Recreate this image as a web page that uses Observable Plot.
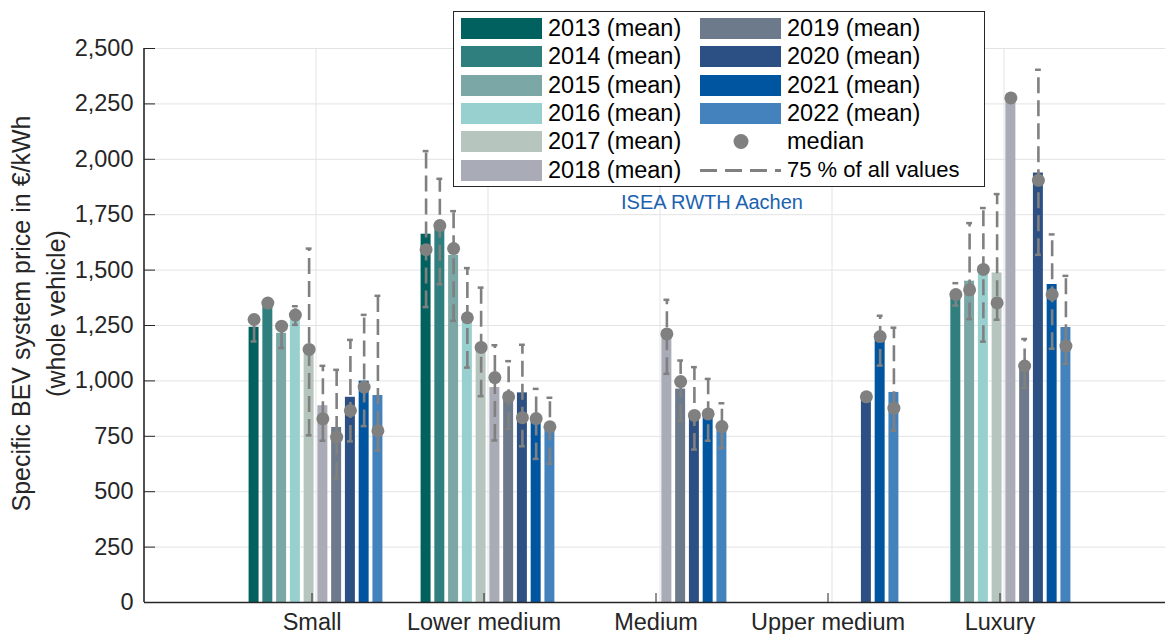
<!DOCTYPE html>
<html>
<head>
<meta charset="utf-8">
<script src="https://cdn.jsdelivr.net/npm/d3@7"></script>
<script src="https://cdn.jsdelivr.net/npm/@observablehq/plot@0.6"></script>
<style>
  body { margin: 0; background: #fff; overflow: hidden; font-family: "Liberation Sans", Arial, sans-serif; }
  #wrap { position: relative; width: 1165px; height: 634px; overflow: hidden; }
  #legend { position: absolute; left: 453px; top: 11px; width: 532px; height: 176px; box-sizing: border-box;
            border: 1px solid #262626; background: #fff; }
  .item { position: absolute; height: 21px; display: flex; align-items: center; white-space: nowrap;
          font-size: 23.5px; color: #000; }
  .sw { width: 81px; height: 21px; margin-right: 6px; flex: none; }
  #credit { position: absolute; left: 712px; top: 202px; transform: translate(-50%, -50%);
            font-size: 20px; color: #1a62b0; white-space: nowrap; }
</style>
</head>
<body>
<div id="wrap">
  <div id="chart"></div>
  <div id="legend"></div>
  <div id="credit">ISEA RWTH Aachen</div>
</div>
<script>
const categories = ["Small", "Lower medium", "Medium", "Upper medium", "Luxury"];
const years = [2013, 2014, 2015, 2016, 2017, 2018, 2019, 2020, 2021, 2022];
const colors = ["#00615e", "#2f7f7e", "#7ba7a6", "#97d0ce", "#b6c5bd", "#a9abb6", "#6c7a8b", "#2c5083", "#0055a1", "#4382bd"];
const yTicks = [0, 250, 500, 750, 1000, 1250, 1500, 1750, 2000, 2250, 2500];

// values per year 2013..2022 (null = no data)
const meanSmall   = [1242, 1340, 1215, 1276, 1122, 888, 790, 926, 999, 934];
const medianSmall = [1277, 1351, 1247, 1297, 1142, 829, 746, 866, 972, 775];
const lowSmall    = [1178, null, 1148, 1253, 754, 730, 560, 727, 796, 686];
const highSmall   = [1280, null, 1250, 1337, 1597, 1068, 1050, 1185, 1298, 1384];

const meanLower   = [1662, 1694, 1566, 1273, 1145, 970, 942, 946, 821, 776];
const medianLower = [1592, 1701, 1597, 1285, 1151, 1015, 928, 834, 830, 793];
const lowLower    = [1333, 1436, 1271, 1060, 931, 731, 784, 705, 648, 626];
const highLower   = [2037, 1912, 1766, 1509, 1421, 1161, 1089, 1163, 964, 924];

const meanMedium   = [null, null, null, null, null, 1205, 963, 838, 840, 776];
const medianMedium = [null, null, null, null, null, 1212, 997, 844, 851, 794];
const lowMedium    = [null, null, null, null, null, 1032, 821, 690, 730, 696];
const highMedium   = [null, null, null, null, null, 1366, 1092, 1062, 1009, 899];

const meanUpper   = [null, null, null, null, null, null, null, 919, 1212, 948];
const medianUpper = [null, null, null, null, null, null, null, 928, 1200, 877];
const lowUpper    = [null, null, null, null, null, null, null, null, 1069, 775];
const highUpper   = [null, null, null, null, null, null, null, null, 1294, 1240];

const meanLuxury   = [null, 1387, 1450, 1490, 1487, 2277, 1070, 1938, 1435, 1241];
const medianLuxury = [null, 1390, 1411, 1503, 1352, 2277, 1067, 1905, 1390, 1157];
const lowLuxury    = [null, 1340, 1279, 1177, 1276, null, 968, 1569, 1145, 1077];
const highLuxury   = [null, 1441, 1712, 1780, 1843, null, 1189, 2404, 1661, 1474];

const table = [
  [meanSmall, medianSmall, lowSmall, highSmall],
  [meanLower, medianLower, lowLower, highLower],
  [meanMedium, medianMedium, lowMedium, highMedium],
  [meanUpper, medianUpper, lowUpper, highUpper],
  [meanLuxury, medianLuxury, lowLuxury, highLuxury]
];

const barStep = 0.08, barHalf = 0.029, capHalf = 0.017;
const rows = categories.flatMap((c, ci) => years.map((y, j) => ({
  cat: c, year: String(y),
  xc: ci + 1 + (j - 4.5) * barStep,
  mean: table[ci][0][j], median: table[ci][1][j], low: table[ci][2][j], high: table[ci][3][j]
})));
const bars = rows.filter(d => d.mean != null);
const wh = rows.filter(d => d.low != null && d.high != null);

const gray = "#808080", ink = "#262626";
const chart = Plot.plot({
  width: 1165, height: 634,
  marginTop: 48, marginBottom: 32, marginLeft: 144, marginRight: 0,
  style: { fontFamily: "'Liberation Sans', Arial, sans-serif", fontSize: "23.5px", background: "#fff" },
  x: { domain: [0, 6], range: [143.5, 1175.5] },
  y: { domain: [0, 2500] },
  color: { type: "ordinal", domain: years.map(String), range: colors },
  marks: [
    Plot.gridY(yTicks, { stroke: "#e3e3e3", strokeOpacity: 1, strokeWidth: 1 }),
    Plot.gridX([1, 2, 3, 4, 5], { stroke: "#e3e3e3", strokeOpacity: 1, strokeWidth: 1 }),
    Plot.rectY(bars, { x1: d => d.xc - barHalf, x2: d => d.xc + barHalf, y: "mean", fill: "year" }),
    Plot.ruleX(wh, { x: "xc", y1: "low", y2: "high", stroke: gray, strokeWidth: 2.6, strokeDasharray: "16,7" }),
    Plot.ruleY(wh, { y: "low", x1: d => d.xc - capHalf, x2: d => d.xc + capHalf, stroke: gray, strokeWidth: 2.5 }),
    Plot.ruleY(wh, { y: "high", x1: d => d.xc - capHalf, x2: d => d.xc + capHalf, stroke: gray, strokeWidth: 2.5 }),
    Plot.dot(bars, { x: "xc", y: "median", r: 6.5, fill: gray, stroke: "none" }),
    Plot.ruleY([0], { stroke: ink, strokeWidth: 1.6 }),
    Plot.ruleX([0], { stroke: ink, strokeWidth: 1.6 }),
    Plot.axisY(yTicks, { tickSize: -11, tickPadding: 22, tickFormat: d3.format(","), color: ink, fontSize: 23.5, label: null }),
    Plot.axisX([1, 2, 3, 4, 5], { tickSize: -9, tickPadding: 20, dx: -4, tickFormat: i => categories[i - 1], color: ink, fontSize: 23.5, label: null }),
    Plot.text(["Specific BEV system price in €/kWh\n(whole vehicle)"], {
      frameAnchor: "left", rotate: -90, dx: -140, dy: -12, lineAnchor: "top", lineHeight: 1.42,
      fontSize: 25, fill: ink, textAnchor: "middle"
    })
  ]
});
document.getElementById("chart").appendChild(chart);

// legend
const legend = document.getElementById("legend");
const rowTop = 6, rowPitch = 28.3, col1 = 7, col2 = 246;
years.forEach((y, j) => {
  const col = j < 6 ? col1 : col2;
  const r = j < 6 ? j : j - 6;
  const el = document.createElement("div");
  el.className = "item";
  el.style.left = col + "px";
  el.style.top = (rowTop + r * rowPitch) + "px";
  el.innerHTML = `<span class="sw" style="background:${colors[j]}"></span><span>${y} (mean)</span>`;
  legend.appendChild(el);
});
const extras = [
  { label: "median", size: 23.5, icon: `<svg width="81" height="21"><circle cx="41" cy="10.5" r="7.5" fill="${gray}"/></svg>` },
  { label: "75 % of all values", size: 22, icon: `<svg width="81" height="21"><line x1="0" y1="10.5" x2="81" y2="10.5" stroke="${gray}" stroke-width="3" stroke-dasharray="17,8"/></svg>` }
];
extras.forEach((e, k) => {
  const el = document.createElement("div");
  el.className = "item";
  el.style.left = col2 + "px";
  el.style.top = (rowTop + (4 + k) * rowPitch) + "px";
  el.style.fontSize = e.size + "px";
  el.innerHTML = `<span class="sw" style="display:flex">${e.icon}</span><span>${e.label}</span>`;
  legend.appendChild(el);
});
</script>
</body>
</html>
